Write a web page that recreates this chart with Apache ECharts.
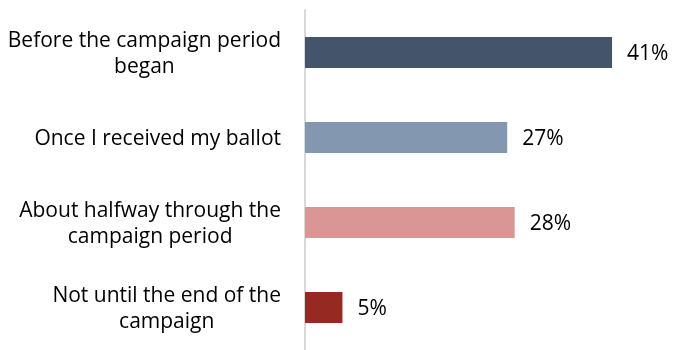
<!DOCTYPE html>
<html>
<head>
<meta charset="utf-8">
<script src="https://cdn.jsdelivr.net/npm/echarts@6/dist/echarts.min.js"></script>
<style>
  html, body { margin: 0; padding: 0; background: #fff; }
  #chart { width: 674px; height: 350px; }
</style>
</head>
<body>
<div id="chart"></div>
<script>
// Timing of the voting decision, share of respondents
const categories = [
  'Before the campaign period\nbegan',
  'Once I received my ballot',
  'About halfway through the\ncampaign period',
  'Not until the end of the\ncampaign'
];
const values = [41, 27, 28, 5];
const barColors = ['#44546a', '#8497b0', '#da9694', '#962921'];

const FONT = 'Open Sans';

const chart = echarts.init(document.getElementById('chart'), null, { renderer: 'canvas' });

chart.setOption({
  animation: false,
  grid: { left: 305, right: 32, top: 10, bottom: -4, containLabel: false },
  xAxis: {
    type: 'value',
    min: 0,
    max: 45,
    show: false
  },
  yAxis: {
    type: 'category',
    inverse: true,
    data: categories,
    axisLine: { show: true, lineStyle: { color: '#d9d9d9', width: 2 } },
    axisTick: { show: false },
    splitLine: { show: false },
    axisLabel: {
      margin: 24,
      padding: [4, 0, 0, 0],
      formatter: function (v) {
        // centre each line within the right-aligned label block
        return v.split('\n').map(function (l) { return '{c|' + l + '}'; }).join('\n');
      },
      rich: {
        c: {
          align: 'center',
          fontFamily: FONT,
          fontSize: 21,
          lineHeight: 26,
          color: '#000'
        }
      }
    }
  },
  series: [{
    type: 'bar',
    data: values.map(function (v, i) {
      return { value: v, itemStyle: { color: barColors[i] } };
    }),
    barWidth: 31,
    label: {
      show: true,
      position: 'right',
      distance: 15,
      offset: [0, 2],
      formatter: '{c}%',
      fontFamily: FONT,
      fontSize: 21,
      color: '#000'
    }
  }]
});
</script>
</body>
</html>
